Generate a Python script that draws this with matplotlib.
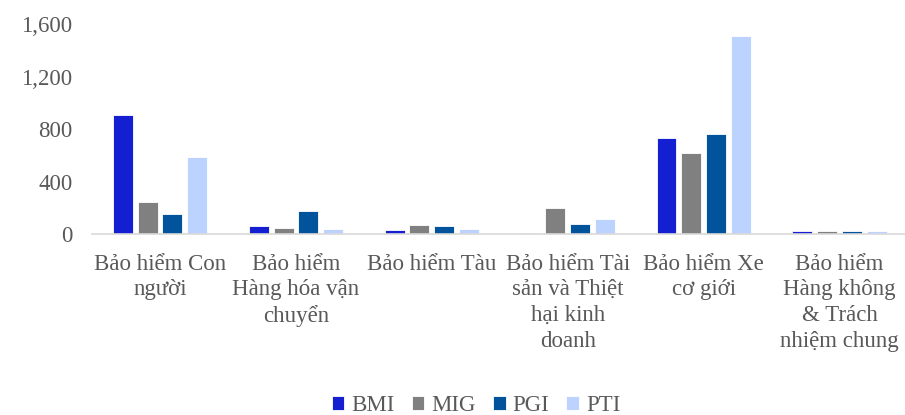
import matplotlib.pyplot as plt
import numpy as np

plt.rcParams['font.family'] = ['Liberation Serif', 'DejaVu Serif']

categories = ['Bảo hiểm Con\nngười', 'Bảo hiểm\nHàng hóa vận\nchuyển', 'Bảo hiểm Tàu',
              'Bảo hiểm Tài\nsản và Thiệt\nhại kinh\ndoanh', 'Bảo hiểm Xe\ncơ giới',
              'Bảo hiểm\nHàng không\n& Trách\nnhiệm chung']
series = ['BMI', 'MIG', 'PGI', 'PTI']
bmi = [904, 63, 33, 5, 731, 25]
mig = [244, 48, 66, 198, 615, 20]
pgi = [150, 178, 61, 74, 760, 23]
pti = [589, 40, 40, 114, 1509, 21]
colors = ['#141fd1', '#808080', '#01539c', '#bdd3ff']
yticks = [0, 400, 800, 1200, 1600]

fig = plt.figure(figsize=(9.05, 4.15), dpi=100)
ax = fig.add_axes([0.1017, 0.436, 0.901, 0.506])

x = np.arange(len(categories))
step = 0.182
width = 0.147
for i, (name, vals) in enumerate(zip(series, [bmi, mig, pgi, pti])):
    ax.bar(x + (i - 1.5) * step, vals, width, color=colors[i], label=name,
           edgecolor='white', linewidth=0.6)

ax.set_xlim(-0.5, 5.5)
ax.set_ylim(0, 1600)
ax.set_yticks(yticks)
ax.set_yticklabels([f'{v:,}' for v in yticks])
ax.set_xticks(x)
ax.set_xticklabels(categories, linespacing=1.3)
ax.tick_params(axis='both', length=0, labelsize=16.5, labelcolor='#595959')
ax.tick_params(axis='y', pad=14)
ax.tick_params(axis='x', pad=14)
for s in ['top', 'right', 'left']:
    ax.spines[s].set_visible(False)
ax.spines['bottom'].set_color('#d9d9d9')
ax.spines['bottom'].set_linewidth(1.2)

leg = fig.legend(loc='center', bbox_to_anchor=(0.526, 0.022), ncol=4, frameon=False,
                 fontsize=16.5, handlelength=0.55, handleheight=0.55, handletextpad=0.3,
                 columnspacing=0.75)
for t in leg.get_texts():
    t.set_color('#595959')

fig.savefig('out.png', dpi=100)
